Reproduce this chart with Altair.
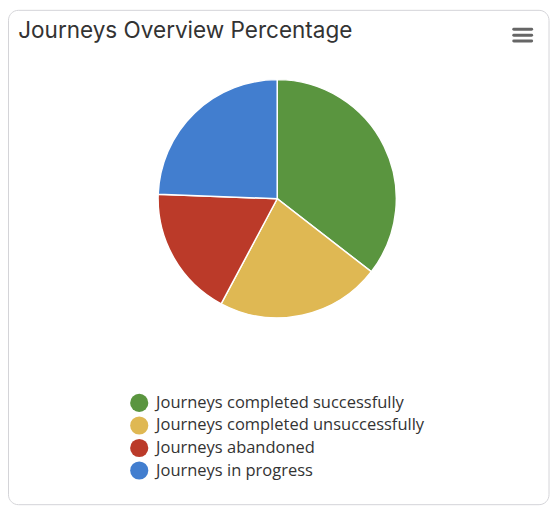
import altair as alt
import pandas as pd

categories = [
    "Journeys completed successfully",
    "Journeys completed unsuccessfully",
    "Journeys abandoned",
    "Journeys in progress",
]
values = [35.5, 22.3, 17.8, 24.4]
colors = ["#5a953f", "#dfb853", "#bb3a29", "#427ecf"]
title_text = ["Journeys Overview Percentage"]

df = pd.DataFrame({"category": categories, "value": values, "idx": list(range(len(categories)))})

W, H = 546, 502

card = alt.Chart(pd.DataFrame({"a": [0]})).mark_rect(
    fill="white", stroke="#d4d4d8", strokeWidth=1, cornerRadius=10
).encode(x=alt.value(0.5), x2=alt.value(545), y=alt.value(0.5), y2=alt.value(498.5))

title = alt.Chart(pd.DataFrame({"t": title_text})).mark_text(
    align="left", baseline="alphabetic", fontSize=22.7, font="Inter", color="#333333"
).encode(x=alt.value(10.3), y=alt.value(28.7), text="t:N")

menu_layers = [
    alt.Chart(pd.DataFrame({"a": [0]})).mark_rule(color="#666666", strokeWidth=3, strokeCap="round").encode(
        x=alt.value(509.5), x2=alt.value(527.5), y=alt.value(yy), y2=alt.value(yy))
    for yy in [19.5, 25.5, 31.5]
]

pie = alt.Chart(df).mark_arc(
    outerRadius=120, stroke="white", strokeWidth=1.5
).encode(
    x=alt.value(271.2),
    y=alt.value(190.3),
    theta=alt.Theta("value:Q", stack=True),
    order=alt.Order("idx:Q"),
    color=alt.Color(
        "category:N",
        scale=alt.Scale(domain=categories, range=colors),
        sort=categories,
        legend=alt.Legend(
            title=None,
            orient="none",
            legendX=122.7,
            legendY=386.5,
            symbolType="circle",
            symbolSize=335,
            symbolStrokeWidth=0,
            labelFontSize=16.6,
            labelFont="Open Sans",
            labelColor="#333333",
            rowPadding=3.7,
            labelOffset=7.5,
            labelLimit=400,
        ),
    ),
)

chart = alt.layer(card, title, *menu_layers, pie).properties(
    width=W, height=H, padding=0, autosize=alt.AutoSizeParams(type="none")
).configure_view(stroke=None)

chart.save("out.html", embed_options={"renderer": "svg", "actions": False})
